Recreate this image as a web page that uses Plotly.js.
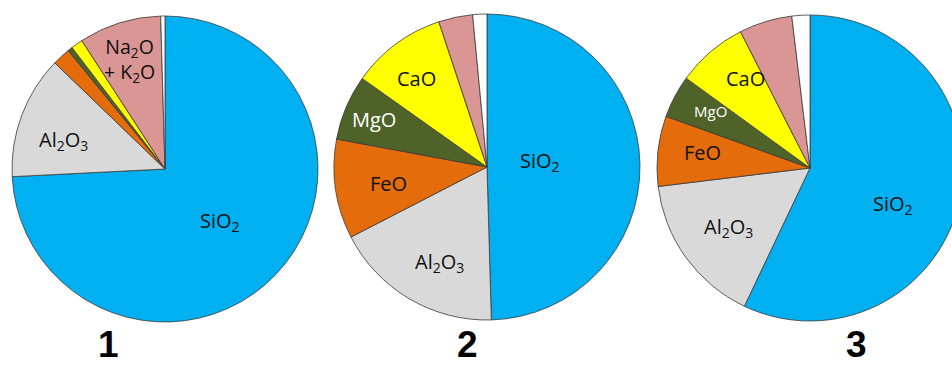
<!DOCTYPE html>
<html>
<head>
<meta charset="utf-8">
<script src="https://cdn.plot.ly/plotly-3.0.1.min.js"></script>
<style>
  html, body { margin: 0; padding: 0; overflow: hidden; background: #ffffff; }
  #chart { width: 970px; height: 367px; }
</style>
</head>
<body>
<div id="chart"></div>
<script>
// ---- data (wt% oxide composition) ----
const components = ['SiO2', 'Al2O3', 'FeO', 'MgO', 'CaO', 'Na2O + K2O', 'Other'];
const rock1 = [74.2, 13.0, 1.9, 0.5, 1.25, 8.7, 0.45];
const rock2 = [49.6, 17.9, 10.5, 6.9, 10.1, 3.6, 1.5];
const rock3 = [57.0, 16.0, 7.4, 4.5, 7.5, 5.6, 1.9];
const rockNames = ['1', '2', '3'];

const sliceText1 = ['SiO<sub>2</sub>', 'Al<sub>2</sub>O<sub>3</sub>', '', '', '', 'Na<sub>2</sub>O<br>+ K<sub>2</sub>O', ''];
const sliceText2 = ['SiO<sub>2</sub>', 'Al<sub>2</sub>O<sub>3</sub>', 'FeO', 'MgO', 'CaO', '', ''];
const sliceText3 = ['SiO<sub>2</sub>', 'Al<sub>2</sub>O<sub>3</sub>', 'FeO', 'MgO', 'CaO', '', ''];

// ---- styling / placement ----
const W = 970, H = 367;
const sliceColors = ['#00B0F0', '#D9D9D9', '#E46C0A', '#4F6228', '#FFFF00', '#D99694', '#FFFFFF'];
const textColors = ['#111111', '#111111', '#111111', '#ffffff', '#111111', '#111111', '#111111'];
// pie boxes in pixels: [centerX, centerY(from top), radius]
const pieBoxes = [[165, 169, 153], [487, 167, 153], [810, 168, 153]];
const numberX = [108, 467, 856];
// label placement: radius fraction and angle shift (deg) relative to slice middle
const labelR = [
  [0.50, 0.69, 0, 0, 0, 0.75, 0],
  [0.35, 0.70, 0.65, 0.80, 0.74, 0, 0],
  [0.59, 0.66, 0.71, 0.75, 0.72, 0, 0]
];
const labelShift = [
  [0, -5, 0, 0, 0, -1, 0],
  [-5, -4, -1, 0, -2, 0, 0],
  [11, 0, 2, 2, 5, 0, 0]
];
const labelSize = [
  [20, 20, 20, 20, 20, 19.5, 20],
  [20, 20, 20, 20, 20, 20, 20],
  [20, 20, 20, 15, 20, 20, 20]
];

function domainOf(b) {
  const [cx, cy, r] = b;
  return {
    x: [(cx - r) / W, (cx + r) / W],
    y: [(H - cy - r) / H, (H - cy + r) / H]
  };
}

const values = [rock1, rock2, rock3];
const texts = [sliceText1, sliceText2, sliceText3];

const traces = values.map((v, i) => ({
  type: 'pie',
  labels: components,
  values: v,
  textinfo: 'none',
  sort: false,
  direction: 'clockwise',
  rotation: 0,
  hoverinfo: 'none',
  marker: { colors: sliceColors, line: { color: '#3a3a3a', width: 0.8 } },
  domain: domainOf(pieBoxes[i]),
  showlegend: false
}));

const annotations = [];
values.forEach((v, i) => {
  const total = v.reduce((a, b) => a + b, 0);
  const [cx, cy, r] = pieBoxes[i];
  let cum = 0;
  v.forEach((val, k) => {
    const mid = (cum + val / 2) / total * 360;
    cum += val;
    if (!texts[i][k]) return;
    const th = (mid + labelShift[i][k]) * Math.PI / 180;
    const px = cx + labelR[i][k] * r * Math.sin(th);
    const py = cy - labelR[i][k] * r * Math.cos(th);
    annotations.push({
      text: texts[i][k],
      xref: 'paper', yref: 'paper',
      x: px / W, y: (H - py) / H,
      xanchor: 'center', yanchor: 'middle',
      showarrow: false,
      font: { family: 'Open Sans, Noto Sans, sans-serif', size: labelSize[i][k], color: textColors[k] }
    });
  });
});

rockNames.forEach((n, i) => {
  annotations.push({
    text: '<b>' + n + '</b>',
    xref: 'paper', yref: 'paper',
    x: numberX[i] / W, y: 0,
    xanchor: 'center', yanchor: 'bottom',
    showarrow: false,
    font: { family: 'Liberation Sans, Arial, sans-serif', size: 37, color: '#000000' }
  });
});

const layout = {
  width: W, height: H,
  margin: { l: 0, r: 0, t: 0, b: 0, pad: 0 },
  paper_bgcolor: '#ffffff',
  plot_bgcolor: '#ffffff',
  showlegend: false,
  annotations: annotations
};

Plotly.newPlot('chart', traces, layout, { displayModeBar: false, staticPlot: true });
</script>
</body>
</html>
